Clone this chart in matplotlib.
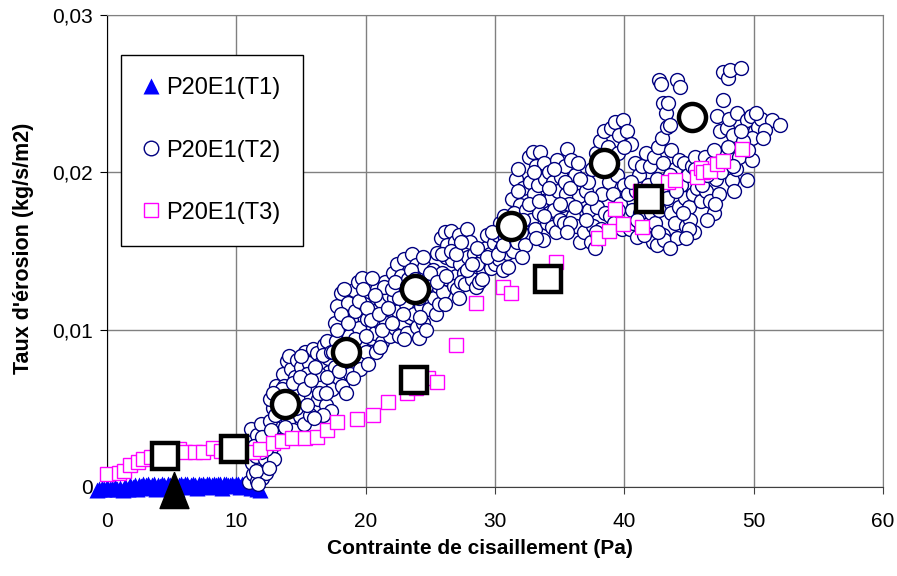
import numpy as np
import matplotlib
matplotlib.use('Agg')
import matplotlib.pyplot as plt
from matplotlib.lines import Line2D

plt.rcParams['font.family'] = ['Liberation Sans', 'DejaVu Sans']

# T1 : near-zero erosion points (x in Pa, y in 1e-3 kg/s/m2)
t1_x = [-0.8, -0.6, -0.4, -0.2, 0.0, 0.2, 0.4, 0.6, 0.8, 1.0,
        1.2, 1.4, 1.6, 1.8, 2.0, 2.15, 2.3, 2.45, 2.6, 2.75,
        2.9, 3.05, 3.2, 3.35, 3.5, 3.65, 3.8, 3.95, 4.1, 4.25,
        4.4, 4.55, 4.7, 4.85, 5.0, 5.15, 5.3, 5.45, 5.6, 5.75,
        5.9, 6.05, 6.2, 6.35, 6.5, 6.65, 6.8, 6.95, 7.1, 7.25,
        7.4, 7.55, 7.7, 7.85, 8.0, 8.15, 8.3, 8.45, 8.6, 8.75,
        8.9, 9.05, 9.2, 9.35, 9.5, 9.65, 9.8, 9.95, 10.1, 10.25,
        10.4, 10.55, 10.7, 10.85, 11.0, 11.15, 11.3, 11.45, 11.6, 11.8]
t1_y = [-0.17, -0.10, -0.05, -0.12, -0.02, -0.15, -0.08, 0.00, -0.12, -0.05,
        -0.17, 0.05, -0.10, 0.10, 0.00, 0.15, -0.10, 0.12, 0.05, 0.18,
        -0.05, 0.15, 0.20, 0.00, 0.12, 0.18, -0.10, 0.15, 0.05, 0.20,
        0.10, -0.05, 0.18, 0.12, 0.00, 0.20, 0.15, -0.10, 0.10, 0.20,
        0.05, 0.18, 0.22, 0.00, 0.15, 0.20, 0.10, -0.05, 0.20, 0.15,
        0.22, 0.05, 0.18, 0.20, 0.00, 0.15, 0.22, 0.10, 0.20, 0.18,
        -0.05, 0.20, 0.22, 0.10, 0.15, 0.20, 0.05, 0.22, 0.18, 0.00,
        0.20, 0.12, 0.22, 0.10, 0.15, -0.05, 0.10, 0.00, -0.10, -0.17]

# T2 : scatter cloud
t2_x = [11.0, 11.3, 11.6, 11.2, 11.8, 12.0, 11.5, 12.2, 11.1, 11.6, 12.1, 12.4, 11.9, 12.3, 11.4,
        12.6, 12.8, 13.0, 13.2, 12.7, 13.4, 13.1, 12.9, 13.3, 12.6,
        13.6, 13.9, 14.2, 13.7, 14.0, 14.3, 14.4, 13.8, 14.1, 14.5, 13.6, 14.2,
        14.7, 15.0, 15.3, 15.6, 14.8, 15.1, 15.4, 15.8, 14.9, 15.2, 15.7, 15.9, 15.5, 16.0,
        16.2, 16.5, 16.8, 17.1, 16.3, 16.6, 16.9, 17.2, 17.4, 16.4, 17.0, 17.3, 16.7,
        17.6, 17.8, 18.1, 18.4, 17.7, 18.0, 18.3, 18.7, 17.9, 18.2, 18.8, 17.6, 18.6, 18.9, 18.5,
        19.1, 19.4, 19.7, 19.2, 19.5, 19.8, 20.1, 20.3, 19.3, 19.6, 20.0, 20.4, 19.9, 20.2,
        20.6, 20.9, 21.2, 21.5, 20.7, 21.0, 21.3, 21.6, 21.8, 20.8, 21.1, 21.9, 21.4,
        22.1, 22.4, 22.7, 23.0, 22.2, 22.5, 22.8, 23.1, 23.3, 22.3, 22.6, 22.9, 23.2, 23.4,
        23.6, 23.9, 24.2, 24.5, 24.8, 23.7, 24.0, 24.3, 24.6, 24.9, 24.1, 24.4, 24.7, 25.0,
        25.2, 25.5, 25.8, 26.1, 25.3, 25.6, 25.9, 26.2, 26.4, 25.4, 25.7, 26.0, 26.3,
        26.6, 26.9, 27.2, 27.5, 27.8, 26.7, 27.0, 27.3, 27.6, 27.9, 26.8, 27.1, 27.4, 27.7,
        28.1, 28.4, 28.7, 29.0, 29.3, 28.2, 28.5, 28.8, 29.1, 29.4, 28.6,
        29.6, 29.9, 30.2, 30.5, 30.8, 29.7, 30.0, 30.3, 30.6, 30.9, 30.4, 30.7,
        31.3, 31.6, 31.9, 32.2, 31.4, 31.7, 32.0, 32.3, 31.5, 32.4, 31.8, 32.1,
        32.6, 32.9, 33.2, 33.5, 33.8, 32.7, 33.0, 33.3, 33.6, 33.9, 32.8, 33.1, 33.4, 33.7, 34.0,
        34.2, 34.5, 34.8, 35.1, 35.4, 34.3, 34.6, 34.9, 35.2, 35.5, 34.4, 34.7, 35.0, 35.3,
        35.6, 35.9, 36.2, 36.5, 36.8, 35.7, 36.0, 36.3, 36.6, 36.9, 35.8, 36.4, 37.0,
        37.2, 37.5, 37.8, 38.1, 38.4, 37.3, 37.6, 37.9, 38.2, 38.5, 37.4, 37.7, 38.0, 38.3,
        38.7, 39.0, 39.3, 39.6, 39.9, 38.8, 39.1, 39.4, 39.7, 40.0, 38.9, 39.2, 39.5, 39.8,
        40.2, 40.5, 40.8, 41.1, 41.4, 40.3, 40.6, 40.9, 41.2, 41.5, 40.4, 40.7, 41.0, 41.3,
        41.7, 42.0, 42.3, 42.6, 42.9, 42.7, 42.8, 43.0, 41.8, 42.1, 42.4, 42.7, 43.0, 42.2, 42.5, 42.8,
        43.2, 43.3, 43.4, 43.5, 44.1, 44.3, 43.6, 43.9, 44.2, 43.3, 43.6, 43.9, 44.2, 43.1, 44.1, 44.4, 43.5,
        44.6, 44.9, 45.2, 45.5, 45.8, 44.7, 45.0, 45.3, 45.6, 45.9, 44.8, 45.1, 45.4,
        46.2, 46.5, 46.8, 47.1, 47.4, 47.2, 47.6, 46.3, 46.6, 46.9, 47.3, 46.4,
        47.6, 48.0, 48.2, 47.9, 48.1, 48.4, 48.7, 48.3, 48.6, 48.9, 48.5,
        49.0, 49.5, 49.8, 50.1, 50.3, 49.9, 49.9, 49.5, 50.6, 51.4, 52.0, 50.9, 49.2]
t2_y = [0.3, 0.8, 0.4, 1.5, 1.2, 0.6, 2.0, 1.8, 3.7, 3.3, 2.8, 3.6, 4.0, 0.9, 2.6,
        4.2, 5.0, 3.4, 5.8, 2.5, 4.6, 6.4, 1.8, 3.0, 5.6,
        7.2, 8.0, 7.5, 6.4, 4.2, 6.0, 3.6, 3.8, 8.3, 7.0, 4.8, 4.9,
        8.1, 7.6, 8.6, 7.9, 6.3, 5.5, 6.8, 5.8, 4.5, 4.0, 4.6, 8.8, 7.2, 6.5,
        8.5, 7.8, 9.0, 8.2, 5.6, 6.6, 5.2, 7.3, 6.2, 7.2, 9.3, 4.8, 4.6,
        10.4, 11.5, 12.3, 11.0, 9.3, 8.0, 10.0, 9.6, 6.9, 6.4, 7.2, 7.6, 11.7, 10.6, 6.0,
        12.5, 13.0, 13.3, 11.2, 10.1, 9.0, 10.7, 12.0, 8.2, 7.5, 8.6, 9.5, 11.6, 7.8,
        11.2, 12.6, 11.8, 13.0, 9.8, 10.5, 9.2, 10.4, 12.2, 8.6, 8.9, 9.6, 12.7,
        13.6, 14.2, 13.4, 14.5, 12.0, 11.2, 12.4, 11.6, 13.2, 10.1, 9.6, 10.4, 9.8, 10.8,
        14.8, 14.1, 13.4, 14.0, 13.2, 11.0, 10.2, 11.5, 12.1, 11.3, 9.5, 10.4, 10.0, 12.4,
        13.8, 14.9, 15.8, 16.2, 12.0, 12.8, 13.6, 14.6, 13.2, 11.0, 11.6, 12.4, 15.4,
        16.3, 15.6, 16.0, 15.2, 16.4, 14.4, 13.4, 14.2, 13.6, 14.6, 12.8, 12.6, 13.0, 12.9,
        15.6, 14.8, 13.6, 14.4, 15.2, 13.2, 12.7, 13.0, 13.8, 16.0, 14.2,
        14.8, 15.5, 16.0, 15.1, 15.8, 13.9, 14.2, 14.5, 13.8, 14.9, 16.8, 17.2,
        18.3, 19.6, 17.9, 19.0, 15.0, 15.6, 16.2, 15.4, 17.4, 17.6, 20.2, 14.6,
        21.0, 21.3, 20.4, 21.3, 20.6, 19.4, 18.6, 19.2, 18.2, 19.6, 17.0, 16.4, 17.4, 15.7, 16.8,
        20.0, 19.4, 20.8, 19.7, 20.4, 18.4, 17.6, 18.8, 17.9, 18.6, 16.5, 16.2, 17.0, 16.8,
        21.5, 20.8, 19.8, 18.5, 17.4, 18.0, 17.2, 16.6, 15.6, 16.2, 16.8, 20.6, 18.8,
        19.4, 20.2, 21.2, 22.0, 22.6, 17.6, 16.6, 17.8, 16.4, 17.4, 15.6, 15.2, 15.8, 18.6,
        21.6, 22.8, 23.2, 22.4, 23.3, 19.4, 18.6, 19.8, 18.0, 19.2, 17.2, 16.8, 17.6, 16.4,
        22.6, 21.8, 20.6, 19.8, 20.4, 18.6, 17.6, 18.8, 17.4, 18.2, 16.4, 16.8, 15.9, 16.6,
        21.2, 20.4, 21.0, 21.6, 22.2, 25.9, 25.6, 24.4, 19.2, 17.4, 16.8, 17.6, 16.0, 15.6, 15.4, 19.0,
        23.8, 22.9, 24.4, 23.0, 25.9, 25.4, 21.4, 20.2, 20.8, 18.4, 17.4, 16.8, 17.8, 15.7, 15.8, 19.2, 15.2,
        20.6, 19.8, 20.4, 21.0, 20.2, 18.4, 17.8, 18.6, 19.0, 18.2, 16.6, 17.0, 16.2,
        21.0, 20.0, 20.6, 19.6, 22.6, 23.6, 24.6, 18.8, 18.2, 17.4, 18.6, 17.0,
        26.4, 26.0, 26.5, 22.8, 23.4, 22.4, 23.8, 19.5, 20.2, 21.0, 18.8,
        26.6, 23.3, 23.6, 22.6, 22.9, 22.2, 20.8, 19.5, 23.4, 23.3, 23.0, 22.7, 22.0]

# more T2 points filling the dense parts of the cloud (x, y)
t2_more = [(11.5, 1.0), (11.9, 2.2), (12.3, 2.4), (12.0, 3.2), (12.5, 1.2), (12.7, 3.6),
           (13.0, 4.6), (13.3, 5.3), (13.5, 6.2), (12.8, 6.0), (11.7, 0.2),
           (14.0, 5.6), (14.4, 6.6), (14.6, 5.0), (14.9, 7.0), (15.2, 6.2), (15.5, 5.2),
           (15.8, 6.8), (16.1, 7.6), (16.4, 6.0), (16.7, 8.4), (17.0, 7.0), (17.3, 8.6),
           (15.0, 8.3), (16.0, 4.4), (16.9, 6.0),
           (17.5, 8.6), (17.8, 10.0), (18.1, 11.0), (18.3, 12.6), (18.6, 10.4), (18.9, 8.2),
           (19.2, 9.4), (19.5, 11.8), (19.8, 12.6), (20.1, 11.4), (20.4, 10.6), (20.7, 12.2),
           (21.0, 11.0), (17.9, 7.4), (19.0, 6.9), (20.0, 9.6), (21.3, 10.0), (20.5, 13.3),
           (21.7, 11.4), (22.0, 12.6), (22.3, 13.0), (22.6, 12.0), (22.9, 11.0), (23.2, 12.8),
           (23.5, 13.8), (23.8, 13.2), (24.1, 12.0), (24.4, 14.6), (24.7, 12.8), (25.0, 13.6),
           (22.0, 10.4), (23.0, 9.4), (24.2, 10.8),
           (25.5, 13.0), (25.9, 14.8), (26.2, 13.4), (26.6, 15.0), (27.0, 14.8), (27.4, 15.6),
           (27.8, 13.8), (28.2, 14.2), (28.6, 15.2), (29.0, 13.2), (29.4, 14.6), (29.8, 16.2),
           (30.2, 14.8), (30.6, 15.4), (31.0, 14.0), (26.1, 11.6), (27.2, 12.0),
           (31.4, 16.4), (31.8, 18.8), (32.2, 17.0), (32.6, 18.0), (33.0, 20.0), (33.4, 18.2),
           (33.8, 17.2), (34.2, 19.0), (34.6, 20.2), (35.0, 18.0), (35.4, 19.4), (35.8, 19.0),
           (36.2, 17.8), (36.6, 19.6), (37.0, 17.0), (37.4, 18.4), (37.8, 16.2), (33.2, 15.8),
           (35.6, 16.2),
           (39.0, 20.4), (39.5, 21.2), (40.0, 21.6), (40.5, 19.4), (41.0, 17.0), (41.5, 16.0),
           (42.0, 18.4), (42.5, 19.6), (43.0, 20.6), (43.5, 19.8), (44.0, 18.8), (44.5, 17.4),
           (45.0, 16.4), (45.5, 20.2), (46.0, 19.2), (42.6, 16.2), (44.8, 15.8),
           (46.4, 19.8), (46.9, 21.4), (47.5, 20.0), (48.0, 21.6), (48.4, 20.4), (49.0, 22.6),
           (49.6, 21.4), (50.2, 23.8), (50.7, 22.2), (47.0, 18.0)]

# T3 : squares
t3_x = [0.0, 0.9, 1.3, 1.8, 2.4, 2.8, 3.4, 5.6, 6.0, 6.8, 7.4, 8.2, 8.8, 11.3,
        11.8, 12.8, 13.5, 14.3, 15.3, 16.2, 17.0, 17.8, 19.3, 20.6, 21.7, 23.2,
        23.9, 24.8, 25.5, 27.0, 28.5, 30.6, 31.2, 34.5, 34.7, 38.0, 38.8, 39.3,
        39.9, 41.2, 41.4, 43.4, 43.9, 45.6, 45.9, 46.1, 46.6, 47.2, 47.6, 49.1]
t3_y = [0.85, 0.9, 1.0, 1.4, 1.6, 1.8, 1.9, 2.4, 2.2, 2.2, 2.2, 2.5, 2.3, 2.2,
        2.4, 2.8, 2.9, 3.1, 3.1, 3.2, 3.6, 4.1, 4.3, 4.6, 5.4, 6.0,
        6.3, 6.9, 6.7, 9.0, 11.7, 12.7, 12.3, 13.0, 14.3, 15.8, 16.3, 17.7,
        16.7, 18.8, 16.5, 19.4, 19.5, 19.7, 20.3, 20.0, 20.1, 20.5, 20.7, 21.5]

# means
m1_x, m1_y = [5.2], [-0.19]
m2_x = [13.8, 18.5, 23.8, 31.2, 38.4, 45.2]
m2_y = [5.3, 8.6, 12.6, 16.6, 20.6, 23.5]
m3_x = [4.5, 9.8, 23.7, 34.1, 41.9]
m3_y = [2.0, 2.4, 6.8, 13.2, 18.3]

k = 1e-3
t2_all_x = list(t2_x) + [p[0] for p in t2_more]
t2_all_y = list(t2_y) + [p[1] for p in t2_more]

fig = plt.figure(figsize=(8.97, 5.76), dpi=100)
ax = fig.add_axes([107/897, 1-487/576, 776/897, 472/576])

ax.plot(t1_x, np.array(t1_y)*k, ls='none', marker='^', ms=12, color='#0000ff',
        mec='none', clip_on=False, zorder=3, label='P20E1(T1)')
ax.plot(t2_all_x, np.array(t2_all_y)*k, ls='none', marker='o', ms=10, mfc='white',
        mec='#000080', mew=1.0, clip_on=False, zorder=4, label='P20E1(T2)')
ax.plot(t3_x, np.array(t3_y)*k, ls='none', marker='s', ms=10.5, mfc='white',
        mec='#ff00ff', mew=1.0, clip_on=False, zorder=5, label='P20E1(T3)')

tri = [(0, 1.25), (-1, -1.25), (1, -1.25), (0, 1.25)]
ax.plot(m1_x, np.array(m1_y)*k, ls='none', marker=tri, ms=26, color='black',
        clip_on=False, zorder=7)
ax.plot(m2_x, np.array(m2_y)*k, ls='none', marker='o', ms=19.5, mfc='white',
        mec='black', mew=3.2, clip_on=False, zorder=7)
ax.plot(m3_x, np.array(m3_y)*k, ls='none', marker='s', ms=18.5, mfc='white',
        mec='black', mew=3.2, clip_on=False, zorder=7)

ax.set_xlim(0, 60)
ax.set_ylim(0, 0.03)
ax.set_xticks([0, 10, 20, 30, 40, 50, 60])
ax.set_yticks([0, 0.01, 0.02, 0.03])
ax.set_yticklabels(['0', '0,01', '0,02', '0,03'])
ax.grid(True, color='#808080', lw=1.0)
ax.set_axisbelow(True)
for s in ['top', 'right']:
    ax.spines[s].set_color('#808080')
ax.spines['left'].set_color('black')
ax.spines['bottom'].set_color('#404040')
ax.tick_params(axis='x', labelsize=15, length=5, pad=13, color='#404040')
ax.tick_params(axis='y', labelsize=15, length=5, pad=5, color='black')

handles = [
    Line2D([], [], ls='none', marker='^', ms=12, color='#0000ff', mec='none'),
    Line2D([], [], ls='none', marker='o', ms=10.5, mfc='white', mec='#000080', mew=1.0),
    Line2D([], [], ls='none', marker='s', ms=10.5, mfc='white', mec='#ff00ff', mew=1.0),
]
leg = ax.legend(handles, ['P20E1(T1)', 'P20E1(T2)', 'P20E1(T3)'],
                loc='upper left', bbox_to_anchor=(14/776, 1-40/472),
                fontsize=17, frameon=True, fancybox=False, framealpha=1,
                edgecolor='black', handlelength=0.65, handletextpad=0.3,
                labelspacing=1.7, borderpad=0.95, borderaxespad=0)
leg.get_frame().set_linewidth(1.0)
leg.set_zorder(10)

fig.text(480/897, 1-548/576, 'Contrainte de cisaillement (Pa)', ha='center',
         va='center', fontsize=15, fontweight='bold')
fig.text(24/897, 1-248/576, "Taux d'érosion (kg/s/m2)", ha='center',
         va='center', rotation=90, fontsize=15.5, fontweight='bold')

fig.savefig('out.png', dpi=100)
